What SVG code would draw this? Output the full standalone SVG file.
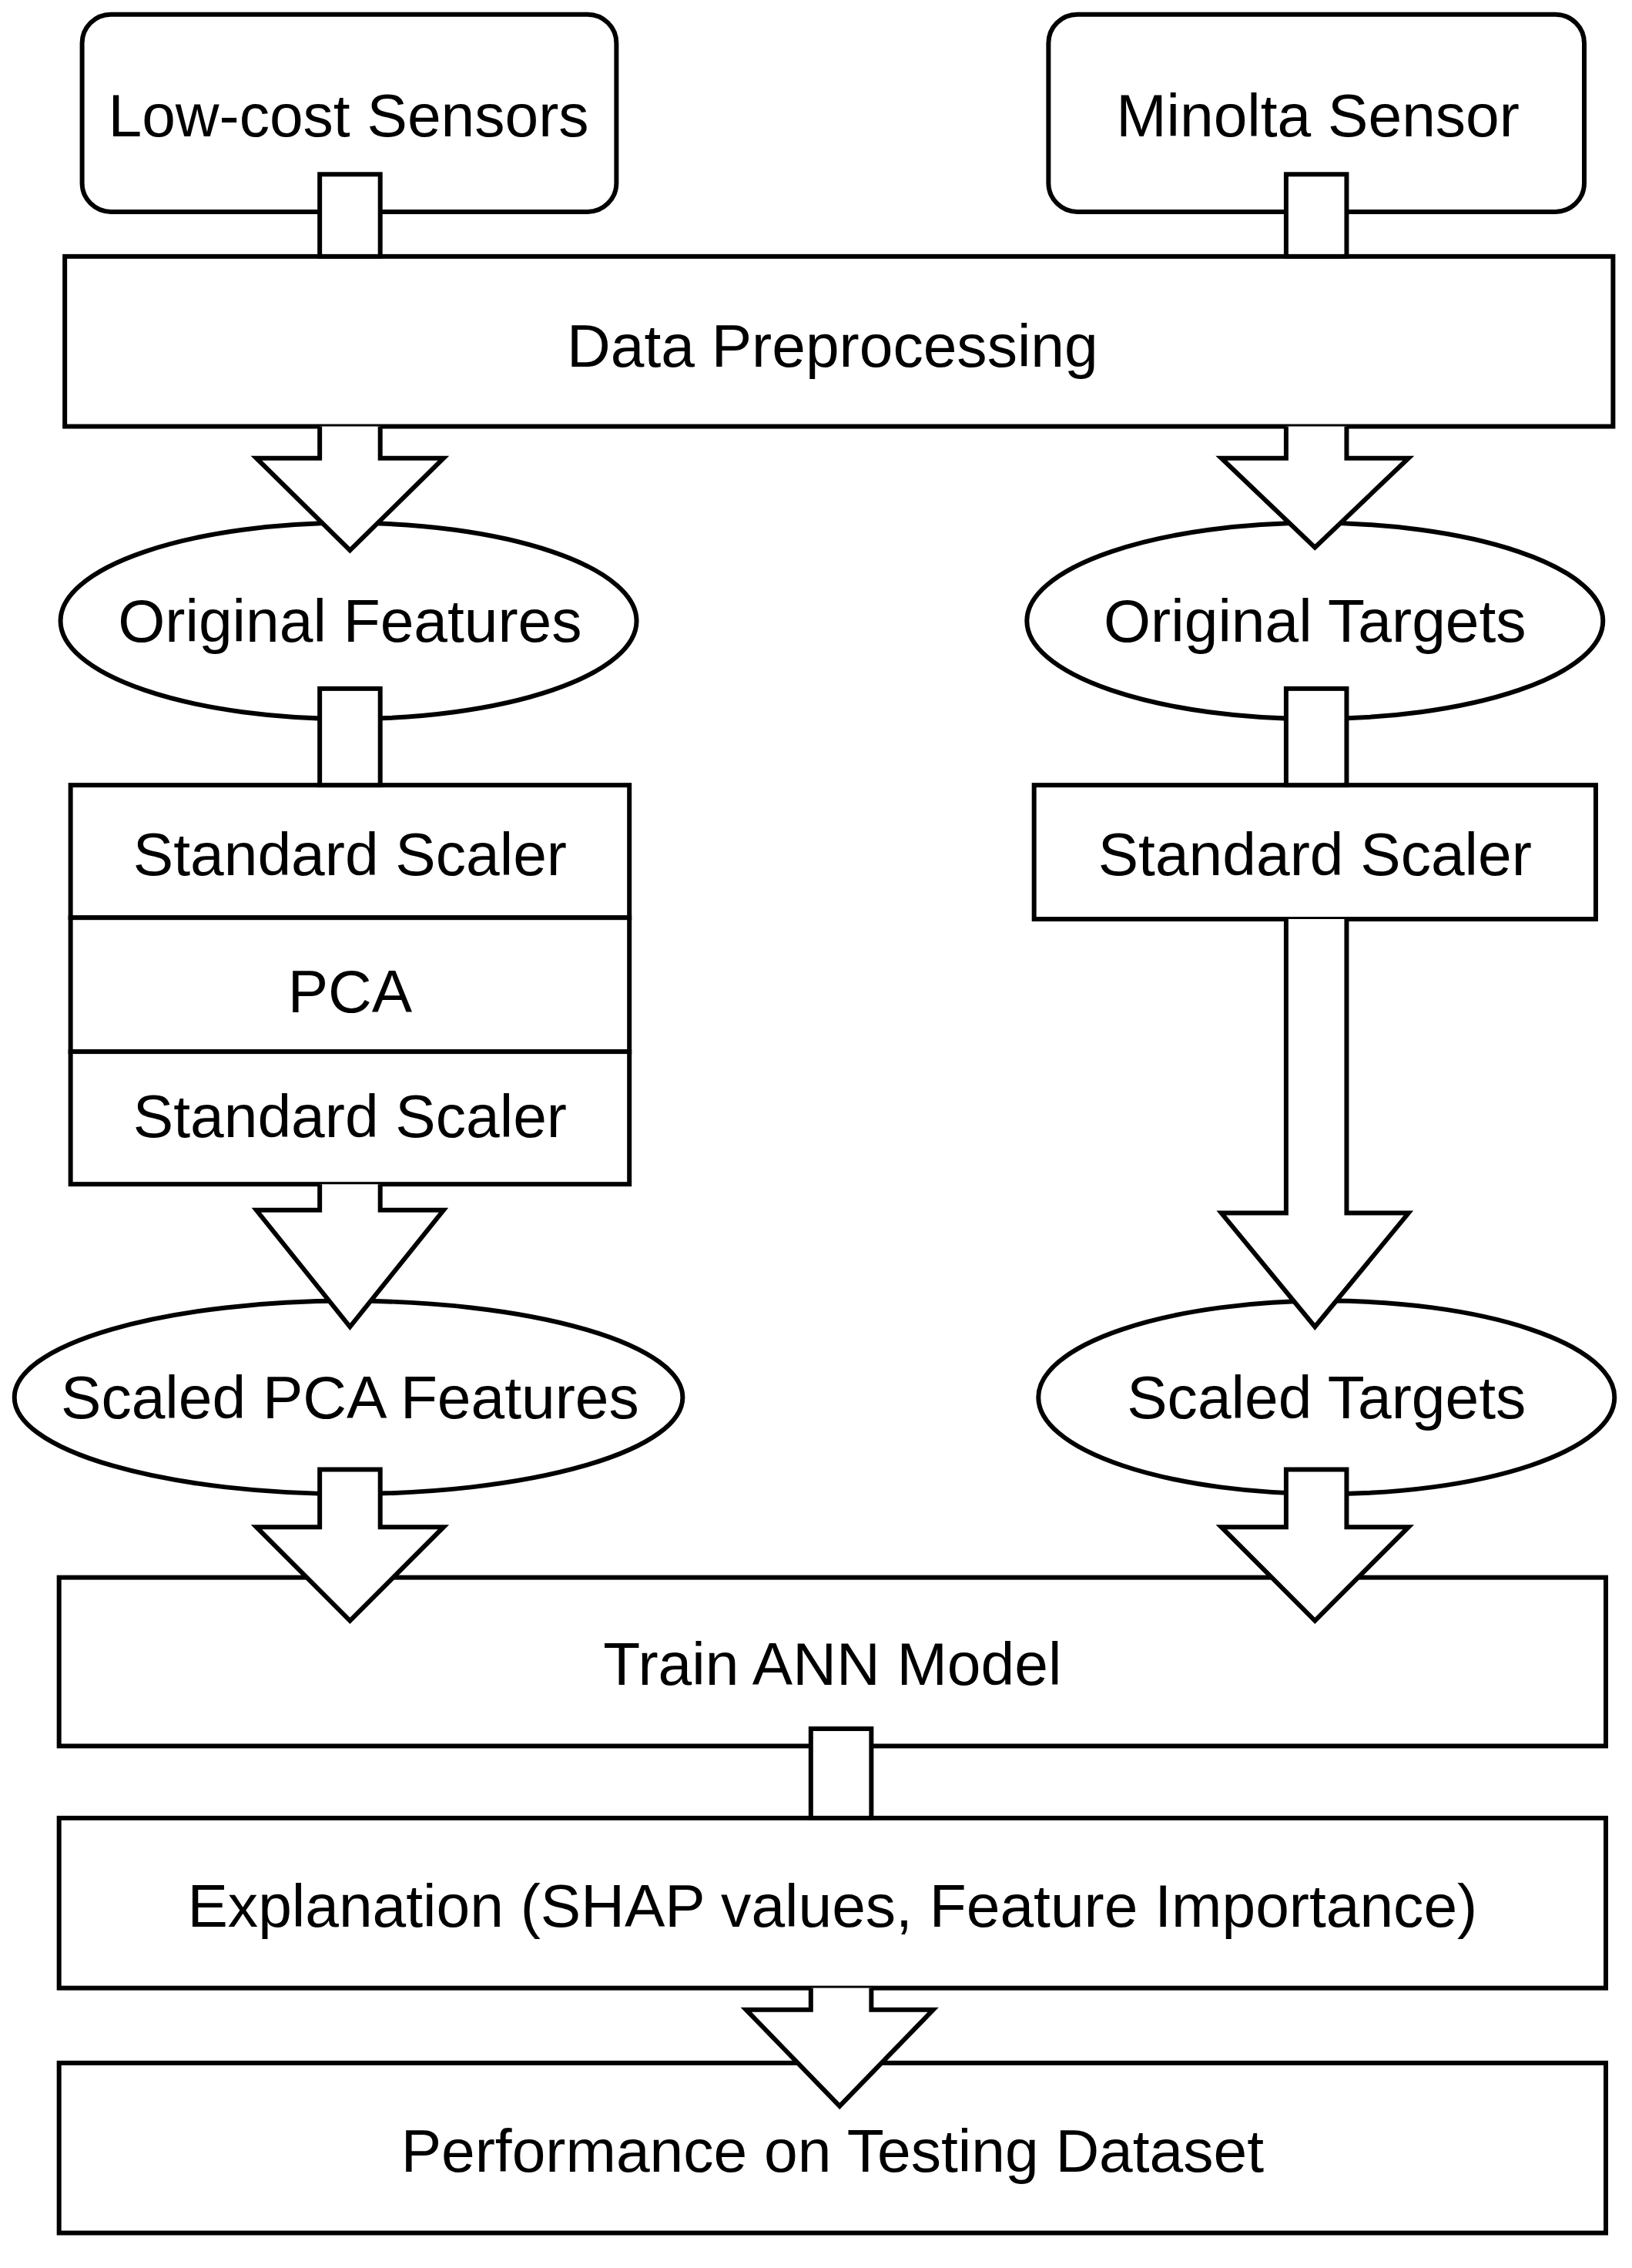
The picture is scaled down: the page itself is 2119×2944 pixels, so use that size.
<svg xmlns="http://www.w3.org/2000/svg" width="2119" height="2944" viewBox="0 0 2119 2944">
<style>
.s{fill:#fff;stroke:#000;stroke-width:3.2;stroke-linejoin:miter}
.t{font-family:"Liberation Sans",Arial,sans-serif;font-size:42px;text-anchor:middle;dominant-baseline:central;fill:#000}
</style>
<rect width="2119" height="2944" fill="#fff"/>
<g transform="scale(1.87)">
<g id="lowcost"><rect class="s" x="57" y="10" width="371" height="137" rx="20"/><text class="t" x="242" y="80">Low-cost Sensors</text></g>
<g id="minolta"><rect class="s" x="728" y="10" width="372" height="137" rx="20"/><text class="t" x="915" y="80">Minolta Sensor</text></g>
<g id="prep"><rect class="s" x="45" y="178" width="1075" height="118"/><text class="t" x="578" y="240">Data Preprocessing</text></g>
<g id="origfeat"><ellipse class="s" cx="242" cy="431" rx="200" ry="68"/><text class="t" x="243" y="431">Original Features</text></g>
<g id="origtarg"><ellipse class="s" cx="913" cy="431" rx="200" ry="68"/><text class="t" x="913" y="431">Original Targets</text></g>
<g id="leftstack">
<rect class="s" x="49" y="545" width="388" height="92"/><text class="t" x="243" y="593">Standard Scaler</text>
<rect class="s" x="49" y="637" width="388" height="93"/><text class="t" x="243" y="688">PCA</text>
<rect class="s" x="49" y="730" width="388" height="92"/><text class="t" x="243" y="775">Standard Scaler</text>
</g>
<g id="rightscaler"><rect class="s" x="718" y="545" width="390" height="93"/><text class="t" x="913" y="593">Standard Scaler</text></g>
<g id="scaledpca"><ellipse class="s" cx="242" cy="970" rx="232" ry="67"/><text class="t" x="243" y="970">Scaled PCA Features</text></g>
<g id="scaledtarg"><ellipse class="s" cx="921" cy="970" rx="200" ry="67"/><text class="t" x="921" y="970">Scaled Targets</text></g>
<g id="train"><rect class="s" x="41" y="1095" width="1074" height="117"/><text class="t" x="578" y="1155">Train ANN Model</text></g>
<g id="explain"><rect class="s" x="41" y="1262" width="1074" height="118"/><text class="t" x="578" y="1323">Explanation (SHAP values, Feature Importance)</text></g>
<g id="perf"><rect class="s" x="41" y="1432" width="1074" height="118"/><text class="t" x="578" y="1493">Performance on Testing Dataset</text></g>
<g id="connectors">
<rect class="s" x="222" y="121" width="42" height="57"/>
<rect class="s" x="893" y="121" width="42" height="57"/>
<path class="s" d="M222,296 V318 H178 L243,382 L308,318 H264 V296"/>
<path class="s" d="M893,296 V318 H848 L913,380 L978,318 H935 V296"/>
<rect class="s" x="222" y="478" width="42" height="67"/>
<rect class="s" x="893" y="478" width="42" height="67"/>
<path class="s" d="M222,822 V840 H178 L243,921 L308,840 H264 V822"/>
<path class="s" d="M893,638 V842 H848 L913,921 L978,842 H935 V638"/>
<path class="s" d="M222,1020 V1060 H178 L243,1125 L308,1060 H264 V1020 Z"/>
<path class="s" d="M893,1020 V1060 H848 L913,1125 L978,1060 H935 V1020 Z"/>
<rect class="s" x="563" y="1200" width="42" height="62"/>
<path class="s" d="M563,1380 V1395 H518 L583,1462 L648,1395 H605 V1380"/>
</g>
</g>
</svg>
